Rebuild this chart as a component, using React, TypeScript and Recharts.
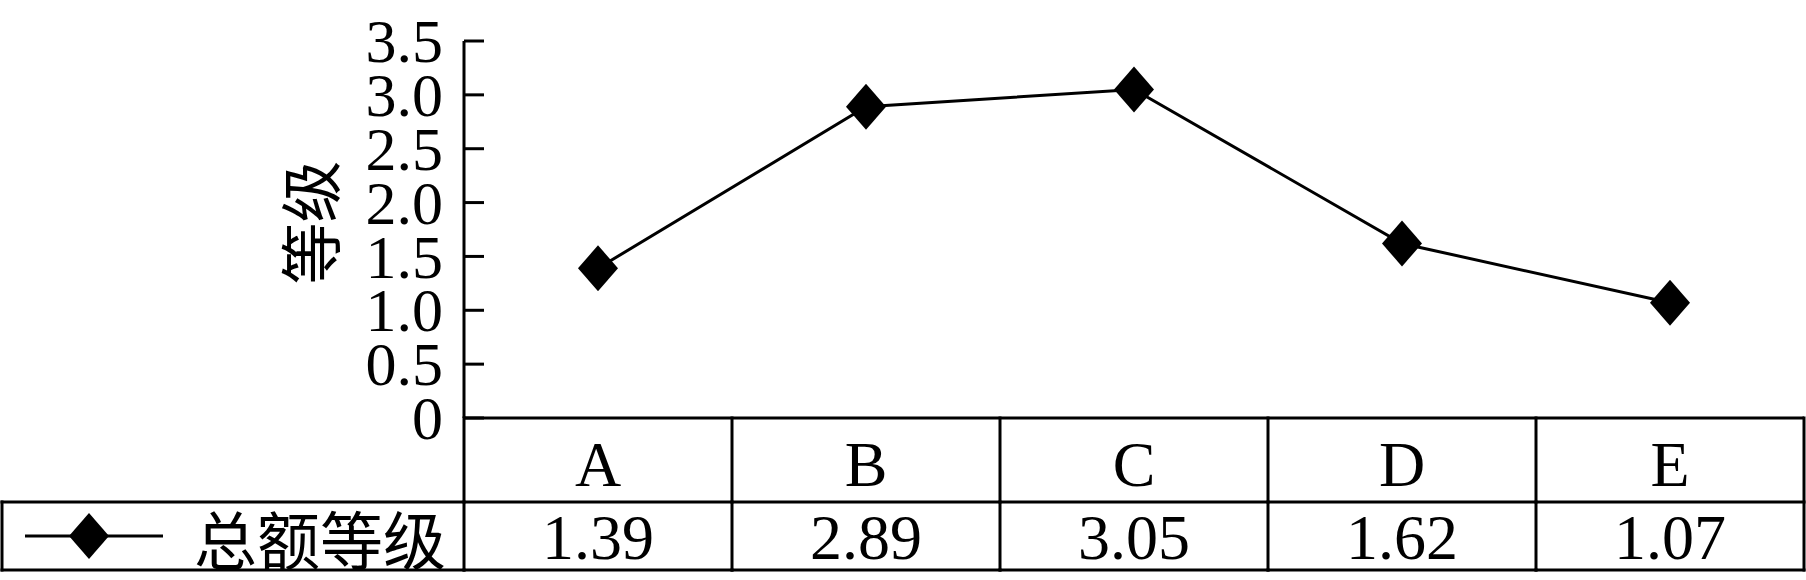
import { Customized, Line, LineChart, XAxis, YAxis } from "recharts";

const categories = ["A", "B", "C", "D", "E"];
const totalGrade = [1.39, 2.89, 3.05, 1.62, 1.07];
const yTicks = [0, 0.5, 1.0, 1.5, 2.0, 2.5, 3.0, 3.5];
const seriesName = "总额等级";
const yAxisTitle = "等级";

const data = categories.map((name, i) => ({ name, total: totalGrade[i] }));

const W = 1806;
const H = 580;
const Y_AXIS_W = 464;
const RIGHT = 2;
const TOP = 41;
const X_AXIS_H = 152;
const BOTTOM = 10;
const BAND = (W - Y_AXIS_W - RIGHT) / categories.length;
const ROW1 = 84; // category row height
const ROW2 = 152; // bottom of value row, from axis line

const SERIF = '"Liberation Serif", "Times New Roman", serif';
const CJK = '"Noto Sans CJK SC", "Noto Sans", sans-serif';
const INK = "#000";
const SW = 3;

function Diamond({ cx, cy }: { cx?: number; cy?: number }) {
  if (cx == null || cy == null) return null;
  return (
    <polygon
      points={`${cx},${cy - 23} ${cx + 20},${cy} ${cx},${cy + 23} ${cx - 20},${cy}`}
      fill={INK}
    />
  );
}

function YTick({ x, y, payload }: any) {
  const v = payload.value as number;
  return (
    <g>
      <text
        x={x}
        y={y}
        dy="0.34em"
        textAnchor="end"
        fontFamily={SERIF}
        fontSize={62}
        fill={INK}
      >
        {v === 0 ? "0" : v.toFixed(1)}
      </text>
      <line x1={x + 21} x2={x + 41} y1={y} y2={y} stroke={INK} strokeWidth={SW} />
    </g>
  );
}

function TableTick({ x, y, payload, index }: any) {
  const left = x - BAND / 2;
  const right = x + BAND / 2;
  return (
    <g>
      <text x={x} y={y + 68} textAnchor="middle" fontFamily={SERIF} fontSize={64} fill={INK}>
        {payload.value}
      </text>
      <text x={x} y={y + 141} textAnchor="middle" fontFamily={SERIF} fontSize={64} fill={INK}>
        {totalGrade[index].toFixed(2)}
      </text>
      <line x1={left} x2={right} y1={y + ROW1} y2={y + ROW1} stroke={INK} strokeWidth={SW} strokeLinecap="square" />
      <line x1={left} x2={right} y1={y + ROW2} y2={y + ROW2} stroke={INK} strokeWidth={SW} strokeLinecap="square" />
      <line x1={right} x2={right} y1={y} y2={y + ROW2} stroke={INK} strokeWidth={SW} strokeLinecap="square" />
      {index === 0 ? (
        <line x1={left} x2={left} y1={y} y2={y + ROW2} stroke={INK} strokeWidth={SW} strokeLinecap="square" />
      ) : null}
    </g>
  );
}

// legend cell at the left end of the value row
function LegendCell() {
  const top = H - BOTTOM - X_AXIS_H + ROW1;
  const bottom = H - BOTTOM - X_AXIS_H + ROW2;
  const mid = (top + bottom) / 2;
  return (
    <g>
      <line x1={2} x2={Y_AXIS_W} y1={top} y2={top} stroke={INK} strokeWidth={SW} strokeLinecap="square" />
      <line x1={2} x2={Y_AXIS_W} y1={bottom} y2={bottom} stroke={INK} strokeWidth={SW} strokeLinecap="square" />
      <line x1={2} x2={2} y1={top} y2={bottom} stroke={INK} strokeWidth={SW} strokeLinecap="square" />
      <line x1={25} x2={163} y1={mid} y2={mid} stroke={INK} strokeWidth={SW} />
      <Diamond cx={89} cy={mid} />
      <text
        x={446}
        y={mid}
        dominantBaseline="central"
        textAnchor="end"
        fontFamily={CJK}
        fontSize={63}
        fill={INK}
      >
        {seriesName}
      </text>
    </g>
  );
}

export default function App() {
  return (
    <div style={{ position: "absolute", left: 0, top: 0, width: W, height: H, background: "#fff" }}>
      <LineChart
        width={W}
        height={H}
        data={data}
        margin={{ top: TOP, right: RIGHT, bottom: BOTTOM, left: 0 }}
      >
        <XAxis
          dataKey="name"
          scale="band"
          height={X_AXIS_H}
          interval={0}
          tickSize={0}
          tickMargin={0}
          tickLine={false}
          axisLine={{ stroke: INK, strokeWidth: SW }}
          tick={<TableTick />}
        />
        <YAxis
          type="number"
          domain={[0, 3.5]}
          ticks={yTicks}
          interval={0}
          width={Y_AXIS_W}
          tickSize={0}
          tickMargin={21}
          tickLine={false}
          axisLine={{ stroke: INK, strokeWidth: SW }}
          tick={<YTick />}
          label={({ viewBox }: any) => {
            const cx = viewBox.x + 308;
            const cy = viewBox.y + viewBox.height / 2 - 7;
            return (
              <text
                x={cx}
                y={cy}
                transform={`rotate(-90 ${cx} ${cy})`}
                textAnchor="middle"
                dominantBaseline="central"
                fontFamily={CJK}
                fontSize={62}
                fill={INK}
              >
                {yAxisTitle}
              </text>
            );
          }}
        />
        <Line
          dataKey="total"
          name={seriesName}
          type="linear"
          stroke={INK}
          strokeWidth={SW}
          dot={<Diamond />}
          activeDot={false}
          isAnimationActive={false}
        />
        <Customized component={<LegendCell />} />
      </LineChart>
    </div>
  );
}
